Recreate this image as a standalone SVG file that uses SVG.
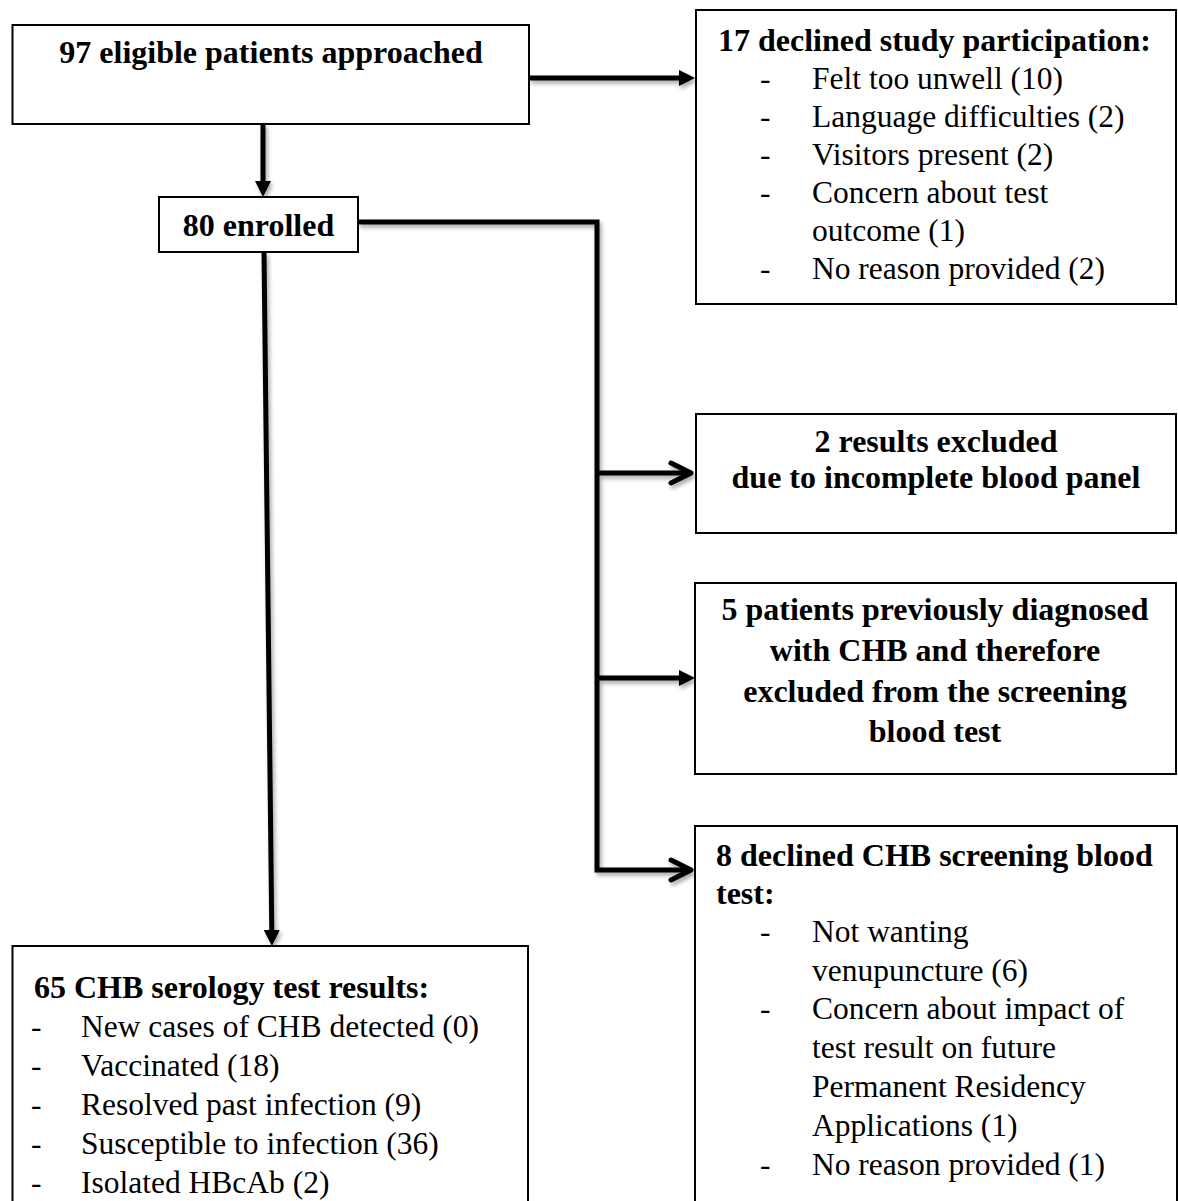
<svg xmlns="http://www.w3.org/2000/svg" width="1178" height="1201" viewBox="0 0 1178 1201">
<style>
  .box { fill: #ffffff; stroke: #000000; stroke-width: 2; }
  .t { font-family: "Liberation Serif", "Times New Roman", serif; font-size: 31.5px; fill: #000000; }
  .b { font-family: "Liberation Serif", "Times New Roman", serif; font-size: 32px; font-weight: bold; fill: #000000; }
  .c { text-anchor: middle; }
  .conn { fill: none; stroke: #000000; stroke-width: 5; stroke-linejoin: miter; }
</style>
<defs>
  <filter id="shadow" x="-10%" y="-10%" width="130%" height="130%">
    <feDropShadow dx="2" dy="3" stdDeviation="2" flood-color="#000000" flood-opacity="0.35"/>
  </filter>
  <marker id="tri" markerUnits="userSpaceOnUse" viewBox="0 -8 16 16" refX="1" refY="0" markerWidth="16" markerHeight="16" orient="auto">
    <path d="M0,-8 L16,0 L0,8 z" fill="#000000"/>
  </marker>
  <marker id="chev" markerUnits="userSpaceOnUse" viewBox="-26 -15 30 30" refX="0" refY="0" markerWidth="30" markerHeight="30" orient="auto">
    <path d="M-20,-10 L0,0 L-20,10" fill="none" stroke="#000000" stroke-width="5" stroke-linecap="round" stroke-linejoin="round"/>
  </marker>
</defs>
<rect width="1178" height="1201" fill="#ffffff"/>

<g id="connectors" filter="url(#shadow)">
  <path class="conn" d="M529,78 H680" marker-end="url(#tri)"/>
  <path class="conn" d="M263,124 V182" marker-end="url(#tri)"/>
  <path class="conn" d="M264,252 L271.8,931" marker-end="url(#tri)"/>
  <path class="conn" d="M358,222 H597 V870 H691" marker-end="url(#chev)"/>
  <path class="conn" d="M597,473 H691" marker-end="url(#chev)"/>
  <path class="conn" d="M597,678 H680" marker-end="url(#tri)"/>
</g>

<g id="node-approached">
  <rect class="box" x="12.5" y="25" width="516.5" height="99" stroke-width="2.5"/>
  <text class="b c" x="271" y="63">97 eligible patients approached</text>
</g>

<g id="node-declined-participation">
  <rect class="box" x="696" y="10" width="480" height="294"/>
  <text class="b" x="718" y="51">17 declined study participation:</text>
  <text class="t" x="760" y="89">-</text><text class="t" x="812" y="89">Felt too unwell (10)</text>
  <text class="t" x="760" y="127">-</text><text class="t" x="812" y="127">Language difficulties (2)</text>
  <text class="t" x="760" y="165">-</text><text class="t" x="812" y="165">Visitors present (2)</text>
  <text class="t" x="760" y="203">-</text><text class="t" x="812" y="203">Concern about test</text>
  <text class="t" x="812" y="241">outcome (1)</text>
  <text class="t" x="760" y="279">-</text><text class="t" x="812" y="279">No reason provided (2)</text>
</g>

<g id="node-enrolled">
  <rect class="box" x="159" y="197" width="199" height="55"/>
  <text class="b c" x="258.5" y="236">80 enrolled</text>
</g>

<g id="node-excluded-incomplete">
  <rect class="box" x="696" y="414" width="480" height="119"/>
  <text class="b c" x="936" y="452">2 results excluded</text>
  <text class="b c" x="936" y="488">due to incomplete blood panel</text>
</g>

<g id="node-previously-diagnosed">
  <rect class="box" x="695" y="583" width="481" height="191"/>
  <text class="b c" x="935" y="620">5 patients previously diagnosed</text>
  <text class="b c" x="935" y="661">with CHB and therefore</text>
  <text class="b c" x="935" y="702">excluded from the screening</text>
  <text class="b c" x="935" y="742">blood test</text>
</g>

<g id="node-declined-test">
  <rect class="box" x="695" y="826" width="482" height="400"/>
  <text class="b" x="716" y="866">8 declined CHB screening blood</text>
  <text class="b" x="716" y="904">test:</text>
  <text class="t" x="760" y="942">-</text><text class="t" x="812" y="942">Not wanting</text>
  <text class="t" x="812" y="981">venupuncture (6)</text>
  <text class="t" x="760" y="1019">-</text><text class="t" x="812" y="1019">Concern about impact of</text>
  <text class="t" x="812" y="1058">test result on future</text>
  <text class="t" x="812" y="1097">Permanent Residency</text>
  <text class="t" x="812" y="1136">Applications (1)</text>
  <text class="t" x="760" y="1175">-</text><text class="t" x="812" y="1175">No reason provided (1)</text>
</g>

<g id="node-serology-results">
  <rect class="box" x="12.5" y="946" width="515.5" height="300"/>
  <text class="b" x="34" y="998">65 CHB serology test results:</text>
  <text class="t" x="31" y="1037">-</text><text class="t" x="81" y="1037">New cases of CHB detected (0)</text>
  <text class="t" x="31" y="1076">-</text><text class="t" x="81" y="1076">Vaccinated (18)</text>
  <text class="t" x="31" y="1115">-</text><text class="t" x="81" y="1115">Resolved past infection (9)</text>
  <text class="t" x="31" y="1154">-</text><text class="t" x="81" y="1154">Susceptible to infection (36)</text>
  <text class="t" x="31" y="1193">-</text><text class="t" x="81" y="1193">Isolated HBcAb (2)</text>
</g>
</svg>
